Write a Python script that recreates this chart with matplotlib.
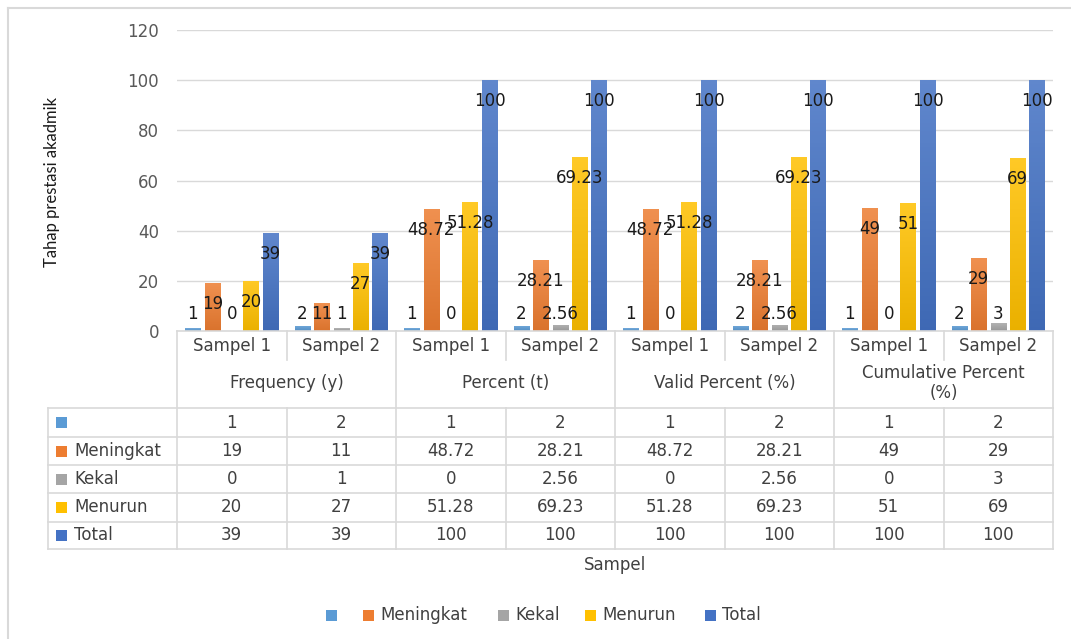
import matplotlib
matplotlib.use("Agg")
import matplotlib.pyplot as plt
import numpy as np
from matplotlib import transforms as mtransforms
from matplotlib.patches import Rectangle
from matplotlib.colors import LinearSegmentedColormap, to_rgb

# ---------------- data ----------------
categories = ["Sampel 1", "Sampel 2", "Sampel 1", "Sampel 2",
              "Sampel 1", "Sampel 2", "Sampel 1", "Sampel 2"]
groups = ["Frequency (y)", "Percent (t)", "Valid Percent (%)", "Cumulative Percent\n(%)"]
series_names = ["", "Meningkat", "Kekal", "Menurun", "Total"]
s_blank = [1, 2, 1, 2, 1, 2, 1, 2]
s_meningkat = [19, 11, 48.72, 28.21, 48.72, 28.21, 49, 29]
s_kekal = [0, 1, 0, 2.56, 0, 2.56, 0, 3]
s_menurun = [20, 27, 51.28, 69.23, 51.28, 69.23, 51, 69]
s_total = [39, 39, 100, 100, 100, 100, 100, 100]
yticks = [0, 20, 40, 60, 80, 100, 120]
ylabel = "Tahap prestasi akadmik"
xlabel = "Sampel"

series = [s_blank, s_meningkat, s_kekal, s_menurun, s_total]
colors = ["#5B9BD5", "#ED7D31", "#A5A5A5", "#FFC000", "#4472C4"]

W, H = 1071, 639
FONT = "DejaVu Sans"
TXT = "#404040"
GRID = "#D9D9D9"

fig = plt.figure(figsize=(W / 100, H / 100), dpi=100)
fig.patch.set_facecolor("white")

# plot area in pixel layout
L, R, T, B = 177, 1053, 30, 331
ax = fig.add_axes([L / W, 1 - B / H, (R - L) / W, (B - T) / H])
ov = fig.add_axes([0, 0, 1, 1], zorder=5)
ov.set_xlim(0, W)
ov.set_ylim(H, 0)
ov.axis("off")
ov.patch.set_visible(False)

n = len(categories)
x = np.arange(n)
step = 0.178
bw = 0.1415


def shade(c, f):
    r, g, b = to_rgb(c)
    if f >= 0:
        return (r + (1 - r) * f, g + (1 - g) * f, b + (1 - b) * f)
    return (r * (1 + f), g * (1 + f), b * (1 + f))


for k, (vals, col) in enumerate(zip(series, colors)):
    xs = x + (k - 2) * step
    bars = ax.bar(xs, vals, width=bw, color=col, zorder=2, linewidth=0)
    cmap = LinearSegmentedColormap.from_list("g%d" % k, [shade(col, -0.08), shade(col, 0.15)])
    for xi, v, p in zip(xs, vals, bars):
        if v > 0:
            grad = np.linspace(0, 1, 64).reshape(-1, 1)
            im = ax.imshow(grad, extent=[xi - bw / 2, xi + bw / 2, 0, v], origin="lower",
                           aspect="auto", cmap=cmap, zorder=3)
            im.set_clip_path(p)
        ax.text(xi, max(v - 8.4, 6.8), f"{v:g}", ha="center", va="center",
                fontsize=12, color="#1a1a1a", family=FONT, zorder=6)

ax.set_xlim(-0.5, n - 0.5)
ax.set_ylim(0, 120)
ax.set_yticks(yticks)
ax.set_xticks([])
ax.yaxis.grid(True, color=GRID, linewidth=1)
ax.set_axisbelow(True)
for s in ax.spines.values():
    s.set_visible(False)
ax.tick_params(axis="y", length=0, pad=13, labelsize=12, labelcolor="#595959")
for lab in ax.get_yticklabels():
    lab.set_family(FONT)

fig.text(52 / W, 1 - 182 / H, ylabel, rotation=90, ha="center", va="center",
         fontsize=12, color="#1a1a1a", family="Lato")

# ---------------- data table ----------------
trans = mtransforms.blended_transform_factory(ax.transData, ov.transData)
row_tops = [408, 437, 465, 493, 522, 549]
lk = dict(color=GRID, linewidth=1.2, zorder=1)

# horizontal lines
ov.plot([L, R], [B, B], **lk)
for yy in row_tops:
    ov.plot([48, R], [yy, yy], **lk)
# vertical lines
for i in range(n + 1):
    xb = i - 0.5
    if i % 2 == 0:
        ov.plot([xb, xb], [B, row_tops[-1]], transform=trans, **lk)
    else:
        ov.plot([xb, xb], [B, 360], transform=trans, **lk)
        ov.plot([xb, xb], [row_tops[0], row_tops[-1]], transform=trans, **lk)
ov.plot([48, 48], [row_tops[0], row_tops[-1]], **lk)

tk = dict(ha="center", va="center", fontsize=12, color=TXT, family=FONT)
for i, c in enumerate(categories):
    ov.text(i, 346, c, transform=trans, **tk)
for g, name in enumerate(groups):
    ov.text(2 * g + 0.5, 383, name, transform=trans, linespacing=1.15, **tk)

for r, (vals, col, name) in enumerate(zip(series, colors, series_names)):
    yc = (row_tops[r] + row_tops[r + 1]) / 2
    ov.add_patch(Rectangle((56, yc - 5.5), 11, 11, facecolor=col, edgecolor="none"))
    ov.text(74, yc, name, ha="left", va="center", fontsize=12, color=TXT, family=FONT)
    for i, v in enumerate(vals):
        ov.text(i, yc, f"{v:g}", transform=trans, **tk)

ov.text((L + R) / 2, 565, xlabel, ha="center", va="center", fontsize=12, color=TXT, family=FONT)

# ---------------- legend ----------------
leg_marker_x = [326, 363, 498, 585, 705]
ly = 615
for mx, col, name in zip(leg_marker_x, colors, series_names):
    ov.add_patch(Rectangle((mx, ly - 5.5), 11, 11, facecolor=col, edgecolor="none"))
    ov.text(mx + 17, ly, name, ha="left", va="center", fontsize=12, color=TXT, family=FONT)

# outer chart border (only top and left edges visible in the frame)
ov.plot([8, W], [8, 8], color=GRID, linewidth=1.5)
ov.plot([8, 8], [8, H], color=GRID, linewidth=1.5)

fig.savefig("out.png", dpi=100, facecolor="white")
